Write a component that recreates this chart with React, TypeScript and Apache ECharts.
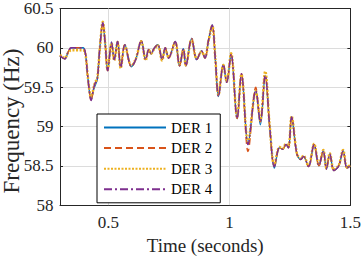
import React, { useEffect, useRef } from 'react';
import * as echarts from 'echarts';

const time = [0.300, 0.320, 0.334, 0.347, 0.395, 0.405, 0.415, 0.429, 0.438, 0.445, 0.454, 0.464, 0.477, 0.487, 0.497, 0.513, 0.524, 0.538, 0.551, 0.568, 0.595, 0.613, 0.636, 0.654, 0.667, 0.677, 0.688, 0.704, 0.722, 0.735, 0.749, 0.776, 0.794, 0.810, 0.820, 0.844, 0.865, 0.885, 0.899, 0.914, 0.929, 0.942, 0.955, 0.975, 0.989, 1.007, 1.032, 1.050, 1.077, 1.109, 1.128, 1.148, 1.167, 1.186, 1.207, 1.220, 1.234, 1.244, 1.257, 1.279, 1.295, 1.306, 1.327, 1.350, 1.370, 1.388, 1.401, 1.415, 1.432, 1.452, 1.470, 1.486, 1.500];

const der1 = [59.90, 59.86, 59.95, 60.00, 60.00, 59.93, 59.62, 59.34, 59.46, 59.52, 59.60, 59.98, 60.31, 60.04, 59.71, 60.07, 59.85, 60.08, 59.75, 60.04, 59.76, 59.85, 60.09, 59.85, 59.98, 59.92, 59.99, 60.04, 59.85, 60.00, 59.87, 60.08, 59.77, 59.99, 59.77, 60.12, 59.85, 59.96, 59.87, 60.10, 60.29, 59.85, 59.38, 59.79, 59.56, 59.92, 59.10, 59.67, 58.78, 59.46, 59.02, 59.65, 58.98, 58.47, 58.73, 58.71, 58.77, 58.73, 59.12, 58.65, 58.58, 58.62, 58.49, 58.77, 58.50, 58.69, 58.46, 58.65, 58.44, 58.50, 58.69, 58.47, 58.50];

const der2 = [59.90, 59.86, 59.95, 60.00, 60.00, 59.93, 59.62, 59.33, 59.47, 59.55, 59.60, 59.98, 60.32, 60.04, 59.71, 60.07, 59.85, 60.08, 59.75, 60.04, 59.76, 59.85, 60.09, 59.85, 59.98, 59.92, 59.99, 60.04, 59.85, 60.00, 59.87, 60.08, 59.77, 59.99, 59.77, 60.12, 59.85, 59.96, 59.87, 60.10, 60.29, 59.85, 59.40, 59.79, 59.56, 59.92, 59.10, 59.67, 58.68, 59.50, 59.06, 59.65, 58.98, 58.49, 58.73, 58.71, 58.77, 58.73, 59.12, 58.65, 58.58, 58.62, 58.49, 58.77, 58.50, 58.69, 58.46, 58.65, 58.44, 58.50, 58.69, 58.47, 58.50];

const der3 = [59.91, 59.87, 59.94, 59.97, 59.97, 59.92, 59.63, 59.36, 59.48, 59.56, 59.61, 59.97, 60.33, 60.05, 59.72, 60.06, 59.84, 60.07, 59.74, 60.03, 59.77, 59.86, 60.08, 59.84, 59.97, 59.93, 59.98, 60.03, 59.84, 59.99, 59.88, 60.07, 59.78, 59.98, 59.78, 60.11, 59.86, 59.95, 59.88, 60.09, 60.28, 59.86, 59.40, 59.78, 59.57, 59.93, 59.12, 59.66, 58.80, 59.45, 59.08, 59.70, 58.99, 58.51, 58.74, 58.72, 58.78, 58.74, 59.13, 58.66, 58.59, 58.63, 58.50, 58.78, 58.51, 58.70, 58.47, 58.66, 58.45, 58.51, 58.70, 58.48, 58.51];

const der4 = [59.90, 59.86, 59.95, 60.00, 60.00, 59.93, 59.62, 59.33, 59.47, 59.55, 59.60, 59.98, 60.32, 60.04, 59.71, 60.07, 59.85, 60.08, 59.75, 60.04, 59.76, 59.85, 60.09, 59.85, 59.98, 59.92, 59.99, 60.04, 59.85, 60.00, 59.87, 60.08, 59.77, 59.99, 59.77, 60.12, 59.85, 59.96, 59.87, 60.10, 60.29, 59.85, 59.38, 59.79, 59.56, 59.92, 59.10, 59.67, 58.77, 59.46, 59.06, 59.65, 58.98, 58.49, 58.73, 58.71, 58.77, 58.73, 59.12, 58.65, 58.58, 58.62, 58.49, 58.77, 58.50, 58.69, 58.46, 58.65, 58.44, 58.50, 58.69, 58.47, 58.50];

const seriesNames = ['DER 1', 'DER 2', 'DER 3', 'DER 4'];
const xTicks = [0.5, 1, 1.5];
const xGridLines = [0.5, 1];

export default function App() {
  const ref = useRef<HTMLDivElement>(null);
  useEffect(() => {
    if (!ref.current) return;
    const chart = echarts.init(ref.current, null, { renderer: 'svg' });
    const font = 'Liberation Serif';
    const ink = '#262626';
    const pair = (arr: number[]) => time.map((t, i) => [t, arr[i]]);
    const styles = [
      { color: '#0072BD', width: 1.4, type: 'solid' as any },
      { color: '#D95319', width: 1.4, type: [7, 4] as any },
      { color: '#EDB120', width: 2.5, type: [2, 1.5] as any },
      { color: '#7E2F8E', width: 1.4, type: [8, 3, 2, 3] as any },
    ];
    const datas = [der1, der2, der3, der4];
    const xMin = 0.3, xMax = 1.5;
    const lineSeries = datas.map((d, i) => ({
      name: seriesNames[i],
      type: 'line',
      data: pair(d),
      smooth: 0.35,
      symbol: 'none',
      showSymbol: false,
      color: styles[i].color,
      lineStyle: { color: styles[i].color, width: styles[i].width, type: styles[i].type, cap: 'butt' },
      z: 3 + i,
    }));
    chart.setOption({
      animation: false,
      textStyle: { fontFamily: font },
      grid: { left: 60, right: 12, top: 8.5, bottom: 51, show: false },
      xAxis: [
        {
          type: 'value', min: xMin, max: xMax,
          axisLine: { show: true, onZero: false, lineStyle: { color: ink, width: 1 } },
          axisTick: { show: true, inside: true, length: 3, customValues: xTicks, lineStyle: { color: ink } },
          axisLabel: { customValues: xTicks, margin: 9, fontFamily: font, fontSize: 17, color: ink,
            formatter: (v: number) => String(v) },
          splitLine: { show: false },
          name: 'Time (seconds)', nameLocation: 'middle', nameGap: 27,
          nameTextStyle: { fontFamily: font, fontSize: 19, color: ink },
        },
        {
          type: 'value', min: xMin, max: xMax, position: 'top',
          axisLine: { show: true, onZero: false, lineStyle: { color: ink, width: 1 } },
          axisTick: { show: true, inside: true, length: 3, customValues: xTicks, lineStyle: { color: ink } },
          axisLabel: { show: false },
          splitLine: { show: false },
        },
      ],
      yAxis: [
        {
          type: 'value', min: 58, max: 60.5, interval: 0.5,
          axisLine: { show: true, onZero: false, lineStyle: { color: ink, width: 1 } },
          axisTick: { show: true, inside: true, length: 3, lineStyle: { color: ink } },
          axisLabel: { margin: 6.5, fontFamily: font, fontSize: 17, color: ink },
          splitLine: { show: true, lineStyle: { color: '#dcdcdc', width: 1 } },
        },
        {
          type: 'value', min: 58, max: 60.5, interval: 0.5, position: 'right',
          axisLine: { show: true, onZero: false, lineStyle: { color: ink, width: 1 } },
          axisTick: { show: true, inside: true, length: 3, lineStyle: { color: ink } },
          axisLabel: { show: false },
          splitLine: { show: false },
        },
      ],
      legend: {
        orient: 'vertical', left: 97, top: 114,
        backgroundColor: '#ffffff', borderColor: '#000000', borderWidth: 1, borderRadius: 0,
        padding: [6, 8, 6, 6],
        itemWidth: 62, itemHeight: 14, itemGap: 5.6,
        itemStyle: { opacity: 0 },
        textStyle: { fontFamily: font, fontSize: 15, color: '#000' },
        data: seriesNames,
      },
      graphic: [
        {
          type: 'text', x: 11, y: 121, rotation: Math.PI / 2,
          style: { text: 'Frequency (Hz)', fontFamily: font, fontSize: 23, fill: ink,
            align: 'center', verticalAlign: 'middle' },
        },
      ],
      series: [
        {
          name: 'grid', type: 'line', data: [], silent: true, z: 1,
          markLine: {
            silent: true, symbol: 'none', z: 1,
            label: { show: false },
            lineStyle: { color: '#dcdcdc', width: 1, type: 'solid' },
            data: xGridLines.map((v) => ({ xAxis: v })),
          },
        },
        ...lineSeries,
      ],
    });
    return () => chart.dispose();
  }, []);
  return <div ref={ref} style={{ position: 'absolute', left: 0, top: 0, width: 364, height: 260 }} />;
}
